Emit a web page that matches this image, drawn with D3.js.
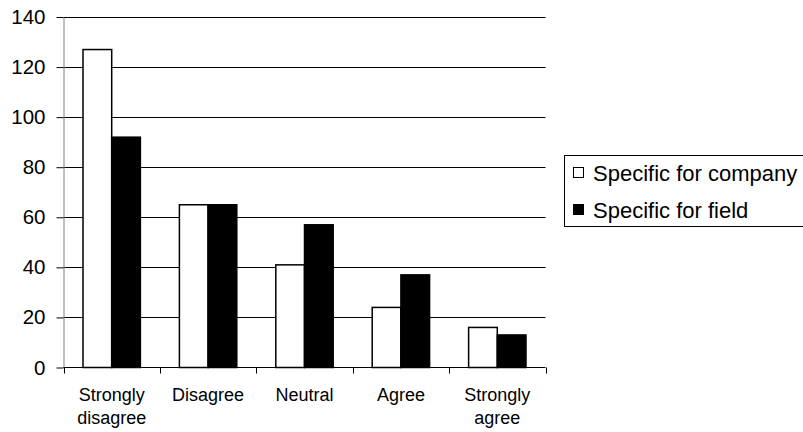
<!DOCTYPE html>
<html>
<head>
<meta charset="utf-8">
<script src="https://cdn.jsdelivr.net/npm/d3@7"></script>
<style>
  html, body { margin: 0; padding: 0; background: #fff; }
  svg { display: block; font-family: "Liberation Sans", Arial, sans-serif; }
</style>
</head>
<body>
<svg id="chart" width="803" height="432"></svg>
<script>
// Survey responses per answer category
const categories = [["Strongly", "disagree"], ["Disagree"], ["Neutral"], ["Agree"], ["Strongly", "agree"]];
const seriesNames = ["Specific for company", "Specific for field"];
const companyValues = [127, 65, 41, 24, 16];
const fieldValues = [92, 65, 57, 37, 13];
const yTicks = [0, 20, 40, 60, 80, 100, 120, 140];
const seriesFill = ["#ffffff", "#000000"];

const svg = d3.select("#chart");
const plot = { left: 63.5, right: 545.5, top: 17, bottom: 367.5 };

const catKeys = categories.map(c => c.join(" "));
const x0 = d3.scaleBand().domain(catKeys).range([plot.left, plot.right]).paddingInner(0).paddingOuter(0);
const x1 = d3.scaleBand().domain(seriesNames).range([0, x0.bandwidth()]).paddingInner(0).paddingOuter(0.68);
const y = d3.scaleLinear().domain([0, 140]).range([plot.bottom, plot.top]);

// Horizontal gridlines
svg.append("g")
  .selectAll("line")
  .data(yTicks.filter(t => t > 0))
  .join("line")
  .attr("x1", plot.left).attr("x2", plot.right)
  .attr("y1", d => Math.round(y(d)) + 0.5).attr("y2", d => Math.round(y(d)) + 0.5)
  .attr("stroke", "#000").attr("stroke-width", 1);

// Y axis
const yAxis = svg.append("g")
  .attr("transform", `translate(${plot.left},0)`)
  .call(d3.axisLeft(y).tickValues(yTicks).tickSize(7).tickPadding(11).tickSizeOuter(0));
yAxis.select(".domain").attr("stroke", "#808080");
yAxis.selectAll(".tick line").attr("stroke", "#000");
yAxis.selectAll(".tick text")
  .attr("font-size", 20.5).attr("fill", "#000")
  .attr("font-family", "Liberation Sans, Arial, sans-serif");

// Bars
const rows = catKeys.map((k, i) => ({ key: k, values: [companyValues[i], fieldValues[i]] }));
const groups = svg.append("g").selectAll("g")
  .data(rows).join("g")
  .attr("transform", d => `translate(${x0(d.key)},0)`);
groups.selectAll("rect")
  .data(d => d.values.map((v, j) => ({ name: seriesNames[j], value: v, j })))
  .join("rect")
  .attr("x", d => x1(d.name))
  .attr("y", d => y(d.value))
  .attr("width", x1.bandwidth())
  .attr("height", d => y(0) - y(d.value))
  .attr("fill", d => seriesFill[d.j])
  .attr("stroke", "#000")
  .attr("stroke-width", 1.5);

// X axis line and category boundary ticks
svg.append("line")
  .attr("x1", plot.left).attr("x2", plot.right)
  .attr("y1", plot.bottom).attr("y2", plot.bottom)
  .attr("stroke", "#000").attr("stroke-width", 1.2);
const boundaries = catKeys.map(k => x0(k)).concat([plot.right]);
svg.append("g").selectAll("line")
  .data(boundaries)
  .join("line")
  .attr("x1", d => Math.round(d) + 0.5).attr("x2", d => Math.round(d) + 0.5)
  .attr("y1", plot.bottom).attr("y2", plot.bottom + 6)
  .attr("stroke", "#000").attr("stroke-width", 1);

// Category labels (may wrap onto two lines)
const labels = svg.append("g").selectAll("text")
  .data(categories)
  .join("text")
  .attr("text-anchor", "middle")
  .attr("font-size", 18)
  .attr("fill", "#000")
  .attr("x", (d, i) => x0(catKeys[i]) + x0.bandwidth() / 2)
  .attr("y", 401);
labels.selectAll("tspan")
  .data(d => d)
  .join("tspan")
  .attr("x", function () { return d3.select(this.parentNode).attr("x"); })
  .attr("dy", (d, i) => i === 0 ? 0 : 23)
  .text(d => d);

// Legend
const legend = svg.append("g");
legend.append("rect")
  .attr("x", 564.5).attr("y", 155.5)
  .attr("width", 250).attr("height", 71)
  .attr("fill", "#fff").attr("stroke", "#000").attr("stroke-width", 1);
const items = legend.selectAll("g.item")
  .data(seriesNames)
  .join("g")
  .attr("class", "item")
  .attr("transform", (d, i) => `translate(0,${173 + i * 37})`);
items.append("rect")
  .attr("x", 573.5).attr("y", -5.5)
  .attr("width", 10).attr("height", 10)
  .attr("fill", (d, i) => seriesFill[i])
  .attr("stroke", "#000").attr("stroke-width", 1);
items.append("text")
  .attr("x", 593).attr("y", 7.5)
  .attr("font-size", 22)
  .attr("fill", "#000")
  .text(d => d);
</script>
</body>
</html>
